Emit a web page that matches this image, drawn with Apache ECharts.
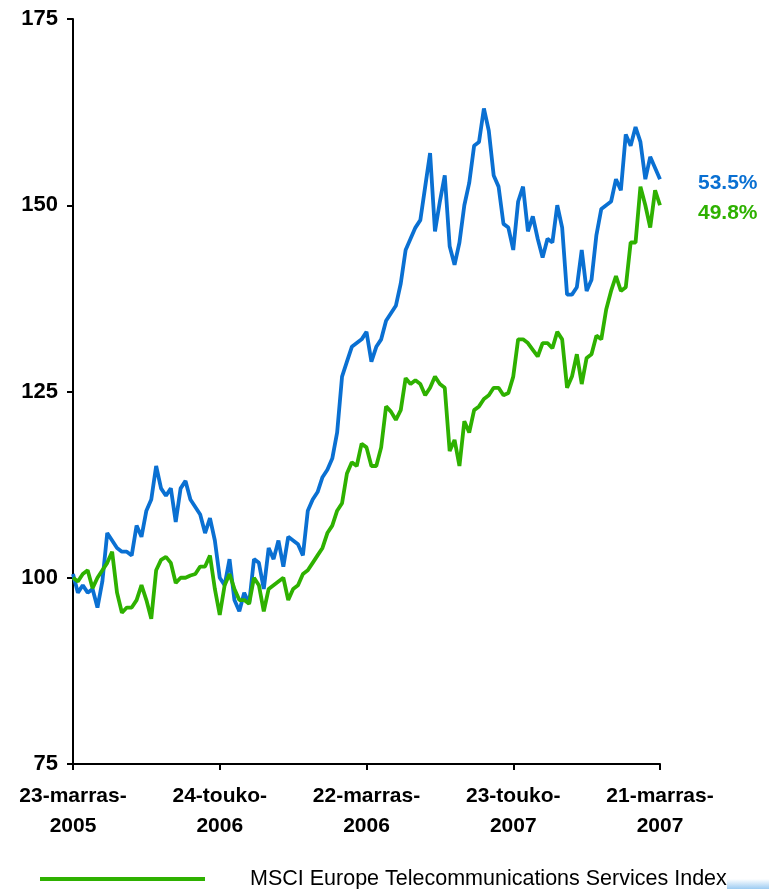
<!DOCTYPE html>
<html>
<head>
<meta charset="utf-8">
<script src="https://cdn.jsdelivr.net/npm/echarts@6/dist/echarts.min.js"></script>
<style>
html,body{margin:0;padding:0;background:#fff;}
#chart{width:769px;height:889px;}
</style>
</head>
<body>
<div id="chart"></div>
<script>
// Tick labels along the x axis (every 30th observation)
const tickLabels = ['23-marras-\n2005', '24-touko-\n2006', '22-marras-\n2006', '23-touko-\n2007', '21-marras-\n2007'];
const tickStep = 30;

// Company share (blue), indexed to 100
const companyValues = [
  100.5, 98, 99, 98, 98.5, 96, 99.5, 106, 105, 104,
  103.5, 103.5, 103, 107, 105.5, 109, 110.5, 115, 112, 111,
  112, 107.5, 112, 113, 110.5, 109.5, 108.5, 106, 108, 105,
  100, 99, 102.5, 97, 95.5, 98, 96.5, 102.5, 102, 98.5,
  104, 102.5, 105, 101.5, 105.5, 105, 104.5, 103, 109, 110.5,
  111.5, 113.5, 114.5, 116, 119.5, 127, 129, 131, 131.5, 132,
  133, 129, 131, 132, 134.5, 135.5, 136.5, 139.5, 144, 145.5,
  147, 148, 152.5, 157, 146.5, 150.5, 154, 144.5, 142, 145,
  150, 153, 158, 158.5, 163, 160, 154, 152.5, 147.5, 147,
  144, 150.5, 152.5, 146.5, 148.5, 145.5, 143, 145.5, 145, 150,
  147, 138, 138, 139, 144, 138.5, 140, 146, 149.5, 150,
  150.5, 153.5, 152, 159.5, 158, 160.5, 158.5, 153.5, 156.5, 155,
  153.5
];

// MSCI Europe Telecommunications Services Index (green), indexed to 100
const indexValues = [
  100, 99.5, 100.5, 101, 98.6, 100, 101, 102, 103.5, 98,
  95.3, 96, 96, 97, 99, 97, 94.5, 101, 102.4, 102.8,
  102, 99.3, 100, 100, 100.3, 100.5, 101.5, 101.5, 103, 98.5,
  95, 99, 100.5, 98.5, 97, 97, 96.5, 100, 99, 95.5,
  98.5, 99, 99.5, 100, 97, 98.5, 99, 100.5, 101, 102,
  103, 104, 106, 107, 109, 110, 114, 115.5, 115, 118,
  117.5, 115, 115, 117.5, 123, 122.3, 121.2, 122.5, 126.8, 126,
  126.5, 126, 124.5, 125.5, 127, 126, 125.5, 117, 118.5, 115,
  121, 119.5, 122.5, 123, 124, 124.5, 125.5, 125.5, 124.5, 124.8,
  127, 132, 132, 131.5, 130.6, 129.7, 131.5, 131.5, 130.8, 133,
  132, 125.5, 127, 130, 126, 129.5, 130, 132.5, 132, 136,
  138.5, 140.5, 138.5, 139, 145, 145, 152.5, 150, 147, 152,
  150
];

const endLabels = ['53.5%', '49.8%'];
const seriesNames = ['Company', 'MSCI Europe Telecommunications Services Index'];

const categories = companyValues.map((_, i) => String(i));

const blue = '#0a70d2';
const green = '#2eb100';
const font = 'Liberation Sans, Arial, sans-serif';

const chart = echarts.init(document.getElementById('chart'), null, {renderer: 'canvas'});
chart.setOption({
  animation: false,
  backgroundColor: '#ffffff',
  grid: {left: 73, right: 109, top: 19, bottom: 125, containLabel: false},
  legend: {
    data: [seriesNames[1]],
    left: 35,
    top: 863,
    icon: 'rect',
    itemWidth: 165,
    itemHeight: 4,
    itemGap: 10,
    textStyle: {fontFamily: font, fontSize: 21.5, color: '#000', padding: [0, 0, 0, 40]}
  },
  xAxis: {
    type: 'category',
    data: categories,
    boundaryGap: false,
    axisLine: {show: true, lineStyle: {color: '#000', width: 2}},
    axisTick: {show: true, length: 6, lineStyle: {color: '#000', width: 2},
      interval: (idx) => idx % tickStep === 0},
    axisLabel: {
      interval: (idx) => idx % tickStep === 0,
      formatter: (v, idx) => tickLabels[Math.round(idx / tickStep)],
      fontFamily: font,
      fontWeight: 'bold',
      fontSize: 21,
      color: '#000',
      lineHeight: 30,
      margin: 17
    },
    splitLine: {show: false}
  },
  yAxis: {
    type: 'value',
    min: 75,
    max: 175,
    interval: 25,
    axisLine: {show: true, lineStyle: {color: '#000', width: 2}},
    axisTick: {show: true, length: 6, lineStyle: {color: '#000', width: 2}},
    axisLabel: {
      fontFamily: font,
      fontWeight: 'bold',
      fontSize: 22,
      color: '#000',
      margin: 15
    },
    splitLine: {show: false}
  },
  series: [
    {
      name: seriesNames[0],
      type: 'line',
      data: companyValues,
      showSymbol: false,
      lineStyle: {color: blue, width: 3.8},
      itemStyle: {color: blue},
      endLabel: {show: true, formatter: endLabels[0], color: blue, fontWeight: 'bold',
        fontFamily: font, fontSize: 21, distance: 38, offset: [0, 4]}
    },
    {
      name: seriesNames[1],
      type: 'line',
      data: indexValues,
      showSymbol: false,
      lineStyle: {color: green, width: 3.8},
      itemStyle: {color: green},
      endLabel: {show: true, formatter: endLabels[1], color: green, fontWeight: 'bold',
        fontFamily: font, fontSize: 21, distance: 38, offset: [0, 8]}
    }
  ],
  graphic: [{
    type: 'rect',
    shape: {x: 727, y: 879, width: 42, height: 10},
    style: {fill: new echarts.graphic.LinearGradient(0, 0, 0, 1, [
      {offset: 0, color: '#ffffff'}, {offset: 1, color: '#9ccbf2'}])},
    silent: true
  }]
});
</script>
</body>
</html>
